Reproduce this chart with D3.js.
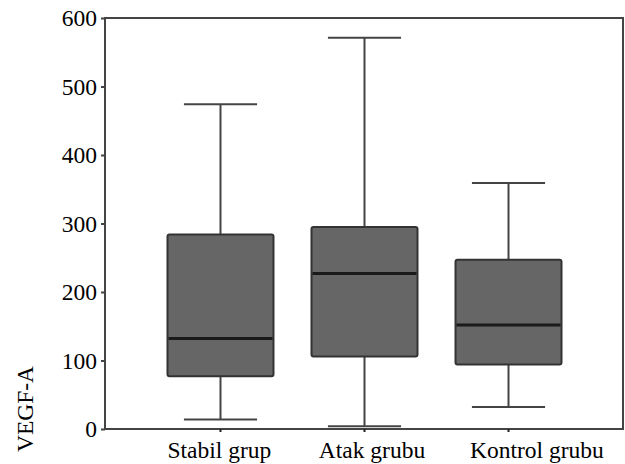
<!DOCTYPE html>
<html>
<head>
<meta charset="utf-8">
<script src="https://cdn.jsdelivr.net/npm/d3@7"></script>
</head>
<body style="margin:0">
<svg></svg>
<script>
const SIZE = { width: 625, height: 464 }
const margin = { top: 18, right: 1, bottom: 35, left: 105 }
const FONT = 'Liberation Serif'
const FONT_SIZE = 23.5

const groups = ['Stabil grup', 'Atak grubu', 'Kontrol grubu']
const whiskerLow = [14, 4, 32]
const q1 = [77, 106, 94]
const median = [132, 227, 152]
const q3 = [284, 295, 247]
const whiskerHigh = [474, 571, 359]
const yTicks = [0, 100, 200, 300, 400, 500, 600]
const yLabel = 'VEGF-A'

const boxes = groups.map((g, i) => ({
  group: g, lo: whiskerLow[i], q1: q1[i], med: median[i], q3: q3[i], hi: whiskerHigh[i]
}))

const svg = d3.select('svg')
  .attr('width', SIZE.width)
  .attr('height', SIZE.height)
  .style('display', 'block')

const innerW = SIZE.width - margin.left - margin.right
const innerH = SIZE.height - margin.top - margin.bottom

const x = d3.scaleBand()
  .domain(groups)
  .range([0, innerW])
  .paddingOuter(0.434)
  .paddingInner(0.264)

// the category labels sit left-aligned, a little wider apart than the boxes
const labelX = d3.scalePoint()
  .domain(groups)
  .range([62.5, 365])

const y = d3.scaleLinear()
  .domain([0, 600])
  .range([innerH, 0])

const g = svg.append('g')
  .attr('transform', `translate(${margin.left},${margin.top})`)

const capW = x.bandwidth() * 0.69
const lineColor = '#444'

const box = g.selectAll('.box')
  .data(boxes)
  .join('g')
    .attr('class', 'box')
    .attr('transform', d => `translate(${x(d.group)},0)`)

const cx = x.bandwidth() / 2

// whiskers
box.append('line')
  .attr('x1', cx).attr('x2', cx)
  .attr('y1', d => y(d.hi)).attr('y2', d => y(d.lo))
  .attr('stroke', lineColor).attr('stroke-width', 2)

box.selectAll('.cap')
  .data(d => [d.lo, d.hi])
  .join('line')
    .attr('class', 'cap')
    .attr('x1', cx - capW / 2).attr('x2', cx + capW / 2)
    .attr('y1', v => y(v)).attr('y2', v => y(v))
    .attr('stroke', lineColor).attr('stroke-width', 2)

box.append('rect')
  .attr('x', 0)
  .attr('width', x.bandwidth())
  .attr('y', d => y(d.q3))
  .attr('height', d => y(d.q1) - y(d.q3))
  .attr('rx', 2)
  .attr('fill', '#666')
  .attr('stroke', '#333')
  .attr('stroke-width', 2)

box.append('line')
  .attr('x1', 1).attr('x2', x.bandwidth() - 1)
  .attr('y1', d => y(d.med)).attr('y2', d => y(d.med))
  .attr('stroke', '#1a1a1a').attr('stroke-width', 3)

// frame
g.append('rect')
  .attr('x', 0).attr('y', 0)
  .attr('width', innerW - 1).attr('height', innerH)
  .attr('fill', 'none')
  .attr('stroke', lineColor)
  .attr('stroke-width', 2)

const yAxis = g.append('g')
  .call(d3.axisLeft(y).tickValues(yTicks).tickSize(4).tickPadding(4))
  .attr('font-family', FONT)
  .attr('font-size', FONT_SIZE)
yAxis.select('.domain').remove()
yAxis.selectAll('line').attr('stroke', lineColor).attr('stroke-width', 2)
yAxis.selectAll('text').attr('fill', '#000')

const xAxis = g.append('g')
  .attr('transform', `translate(0,${innerH})`)
  .call(d3.axisBottom(x).tickSize(3).tickFormat(''))
xAxis.select('.domain').remove()
xAxis.selectAll('line').attr('stroke', '#222').attr('stroke-width', 2)

g.append('g')
  .selectAll('text')
  .data(groups)
  .join('text')
    .attr('x', d => labelX(d))
    .attr('y', innerH + 29)
    .attr('font-family', FONT)
    .attr('font-size', FONT_SIZE)
    .attr('fill', '#000')
    .text(d => d)

svg.append('text')
  .attr('transform', 'translate(33,409) rotate(-90)')
  .attr('text-anchor', 'middle')
  .attr('font-family', FONT)
  .attr('font-size', FONT_SIZE)
  .attr('fill', '#000')
  .text(yLabel)
</script>
</body>
</html>
